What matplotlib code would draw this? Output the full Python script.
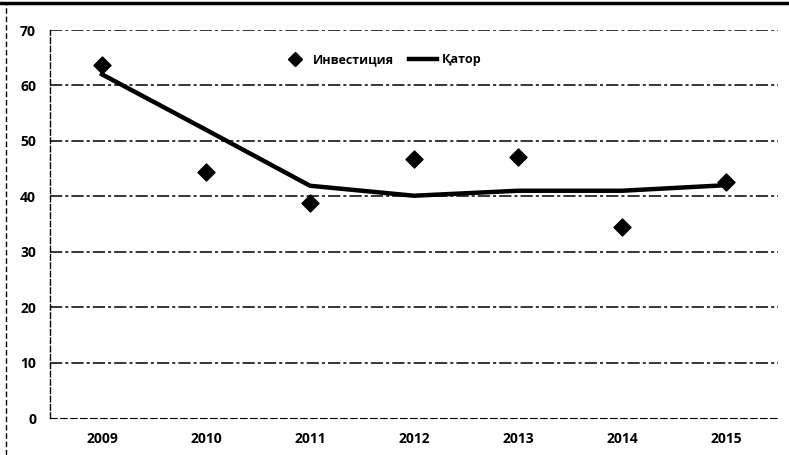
import matplotlib
matplotlib.use("Agg")
import matplotlib.pyplot as plt
from matplotlib.lines import Line2D

years = ["2009", "2010", "2011", "2012", "2013", "2014", "2015"]
investment = [63.7, 44.4, 38.8, 46.7, 47.1, 34.5, 42.6]
qator = [62.0, 52.0, 41.9, 40.1, 41.0, 41.0, 42.0]
y_ticks = [0, 10, 20, 30, 40, 50, 60, 70]

plt.rcParams['font.family'] = ['Open Sans', 'DejaVu Sans']
plt.rcParams['font.weight'] = 'bold'

fig = plt.figure(figsize=(7.89, 4.55), dpi=100)
ax = fig.add_axes([50 / 789, 1 - 418 / 455, 728 / 789, 388 / 455])

x = list(range(len(years)))
for t in y_ticks[1:]:
    ax.axhline(t, color='black', lw=1.1, ls=(0, (8, 2, 2, 2)), zorder=1)

ax.plot(x, qator, color='black', lw=3.2, zorder=2, label='Қатор')
ax.scatter(x, investment, marker='D', s=75, color='black', zorder=3,
           label='Инвестиция')

ax.set_xlim(-0.5, len(years) - 0.5)
ax.set_ylim(0, 70)
ax.set_xticks(x)
ax.set_xticklabels(years, fontsize=10, fontweight='bold')
ax.set_yticks(y_ticks)
ax.set_yticklabels([str(t) for t in y_ticks], fontsize=10, fontweight='bold')
ax.tick_params(axis='both', length=0, pad=10)

for side in ['top', 'right']:
    ax.spines[side].set_visible(False)
ax.spines['left'].set_linestyle((0, (4, 2)))
ax.spines['left'].set_linewidth(1.0)
ax.spines['bottom'].set_linestyle((0, (6, 3)))
ax.spines['bottom'].set_linewidth(0.8)

handles = [
    Line2D([], [], marker='D', color='black', ls='none', markersize=7),
    Line2D([], [], color='black', lw=3.2),
]
ax.legend(handles, ['Инвестиция', 'Қатор'], loc='upper center',
          bbox_to_anchor=(0.455, 0.97), ncol=2, frameon=False,
          handlelength=2.2, handletextpad=0.4, columnspacing=1.2,
          prop={'weight': 'bold', 'size': 9})

# outer frame of the scanned chart
fig.add_artist(Line2D([0, 1], [0.993, 0.993], color='black', lw=2.5,
                      transform=fig.transFigure))
fig.add_artist(Line2D([0.008, 0.008], [0, 0.993], color='black', lw=1.0,
                      ls=(0, (4, 2)), transform=fig.transFigure))

fig.savefig('out.png', dpi=100)
